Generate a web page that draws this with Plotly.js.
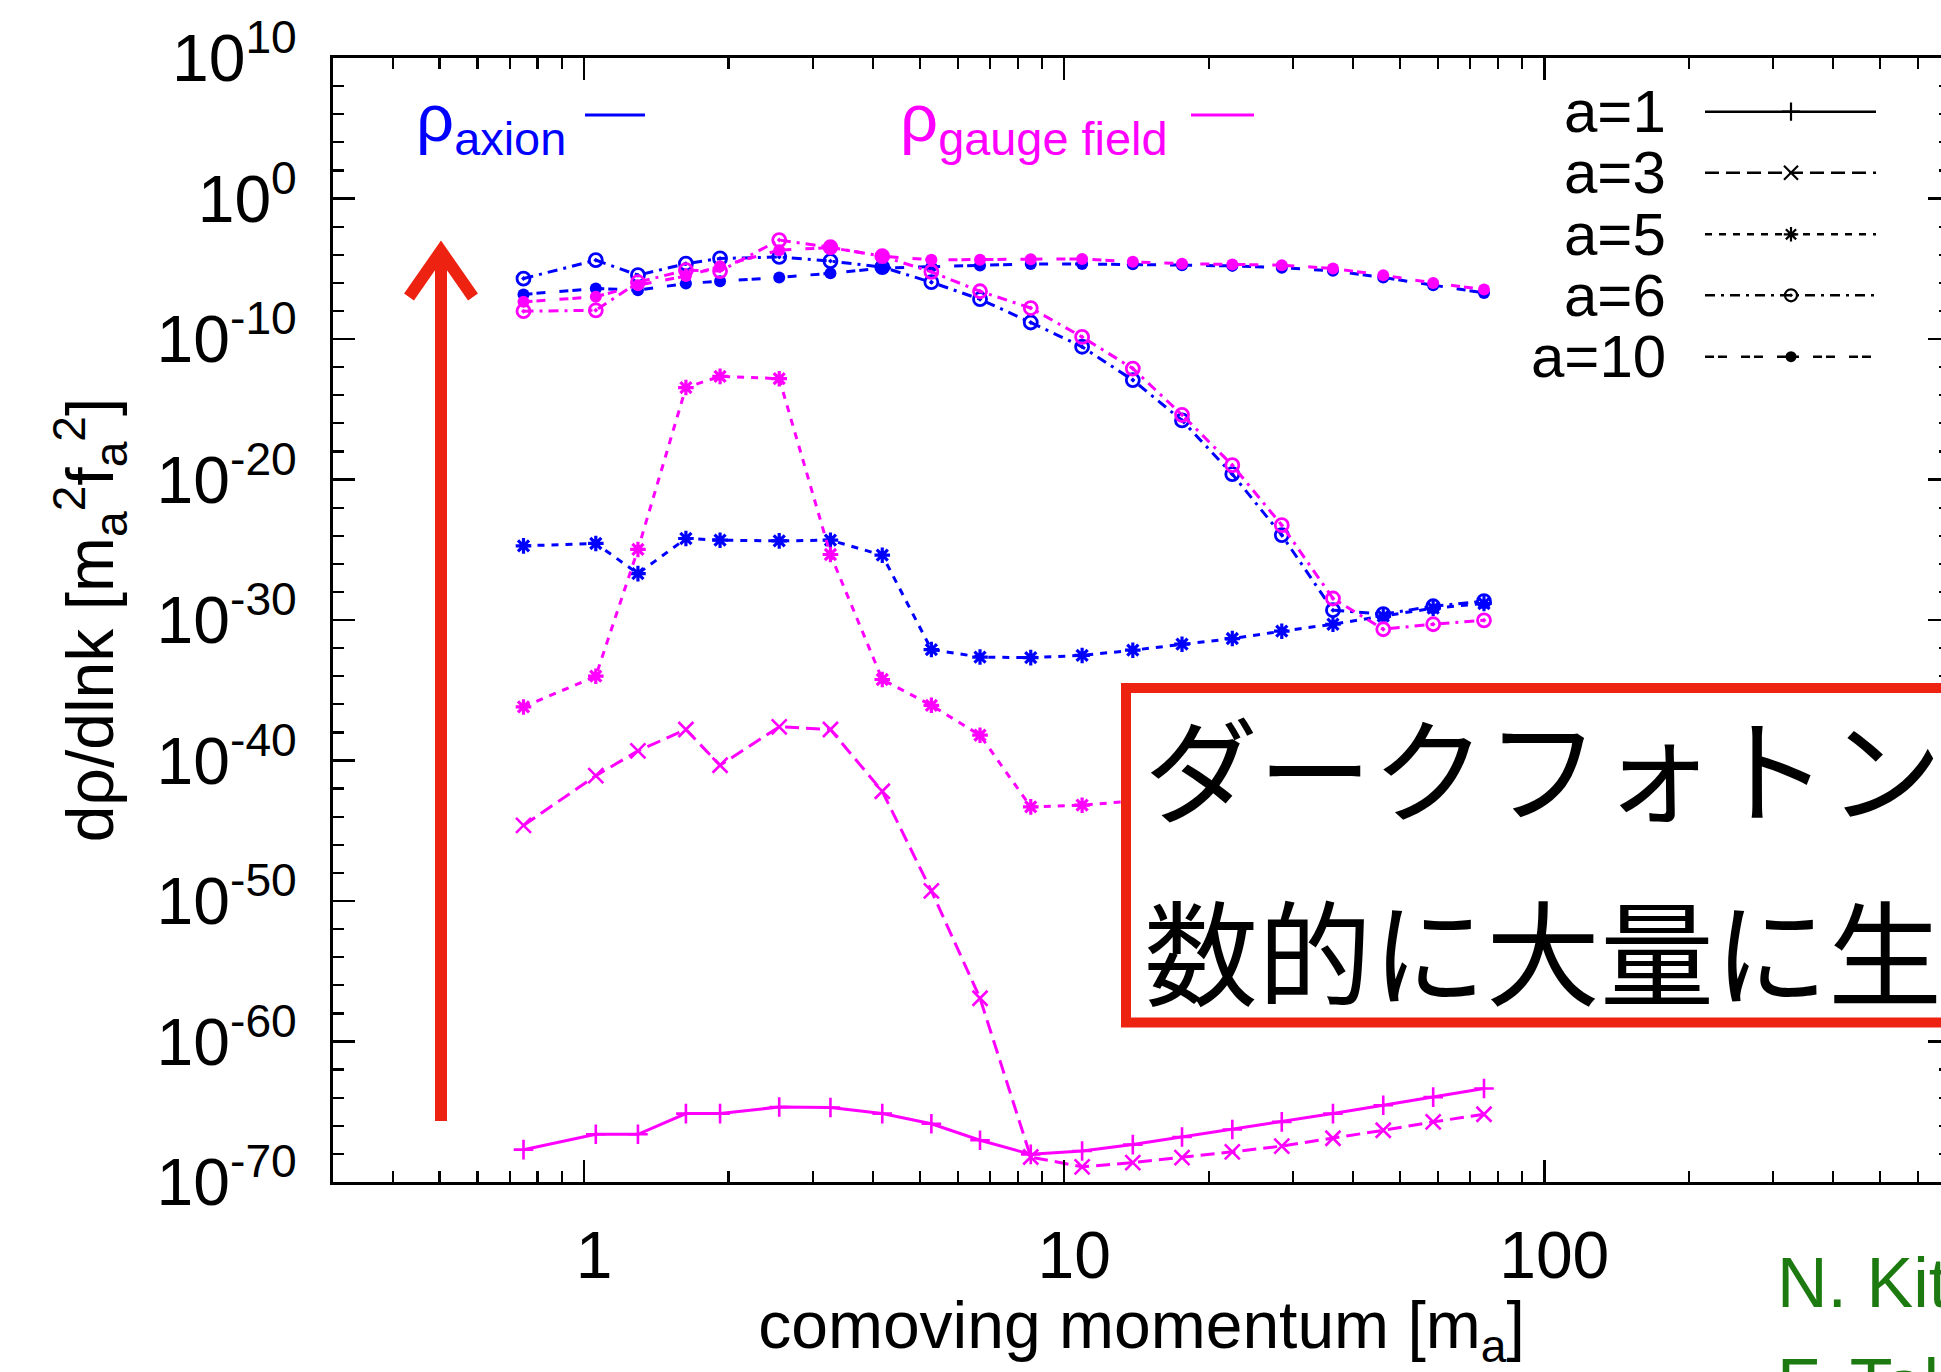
<!DOCTYPE html>
<html>
<head>
<meta charset="utf-8">
<script src="https://cdn.plot.ly/plotly-3.0.1.min.js"></script>
<style>
html,body{margin:0;padding:0;overflow:hidden;background:#ffffff;}
#chart{width:1960px;height:1372px;}
</style>
</head>
<body>
<div id="chart"></div>
<script>
// comoving momentum [m_a]
const k = [0.748,1.058,1.295,1.63,1.92,2.55,3.26,4.18,5.29,6.68,8.52,10.9,13.9,17.6,22.4,28.4,36.3,46.2,58.7,74.9];

// rho_axion (blue)
const axion_a5  = [1.9e-25,2.8e-25,2.0e-27,6.3e-25,4.8e-25,4.3e-25,4.8e-25,4.1e-26,7.9e-33,2.3e-33,2.1e-33,3.0e-33,7.1e-33,1.9e-32,4.8e-32,1.6e-31,5.0e-31,1.9e-30,6.9e-30,1.5e-29];
const axion_a6  = [2.0e-6,4.1e-5,3.5e-6,2.3e-5,5.4e-5,6.9e-5,3.5e-5,1.3e-5,1.1e-6,6.8e-8,1.5e-9,2.8e-11,1.2e-13,1.6e-16,2.4e-20,1.1e-24,5.0e-30,2.6e-30,9.5e-30,2.2e-29];
const axion_a10 = [1.5e-7,3.9e-7,3.0e-7,8.9e-7,1.3e-6,2.4e-6,4.8e-6,1.1e-5,1.4e-5,1.7e-5,2.2e-5,2.2e-5,2.1e-5,1.8e-5,1.6e-5,1.2e-5,7.1e-6,2.4e-6,6.8e-7,1.9e-7];

// rho_gauge field (magenta)
const gauge_a1  = [2.0e-68,2.5e-67,2.5e-67,7.4e-66,7.4e-66,2.2e-65,2.0e-65,7.4e-66,1.4e-66,9.3e-68,9.3e-69,1.6e-68,4.6e-68,1.6e-67,5.4e-67,1.9e-66,7.4e-66,2.9e-65,1.1e-64,4.5e-64];
const gauge_a3  = [2.4e-45,8.3e-42,4.8e-40,1.6e-38,4.6e-41,2.5e-38,1.6e-38,6.5e-43,5.2e-50,1.2e-57,6.0e-69,1.2e-69,2.4e-69,5.5e-69,1.4e-68,3.6e-68,1.3e-67,4.8e-67,1.9e-66,6.6e-66];
const gauge_a5  = [6.5e-37,1.0e-34,1.05e-25,3.5e-14,2.2e-13,1.5e-13,4.6e-26,5.8e-35,8.5e-37,6.3e-39,5.0e-44,6.6e-44,1.3e-43];
const gauge_a6  = [9.5e-9,1.1e-8,1.1e-6,7.9e-6,6.8e-6,1.1e-3,3.4e-4,7.8e-5,6.0e-6,2.5e-7,1.6e-8,1.4e-10,7.9e-13,4.0e-16,1.05e-19,5.6e-24,3.4e-29,2.2e-31,5.0e-31,9.5e-31];
const gauge_a10 = [4.4e-8,1.0e-7,6.8e-7,3.0e-6,1.5e-5,2.1e-4,3.2e-4,7.8e-5,4.3e-5,4.3e-5,4.8e-5,5.0e-5,3.1e-5,2.3e-5,2.0e-5,1.8e-5,1.05e-5,3.5e-6,9.8e-7,3.3e-7];

// tick labels
const xTickVals = [1,10,100];
const xTickText = ["1","10","100"];
const xMinorVals = [0.3,0.4,0.5,0.6,0.7,0.8,0.9,2,3,4,5,6,7,8,9,20,30,40,50,60,70,80,90,200,300,400,500,600,700];
const yExps = [10,0,-10,-20,-30,-40,-50,-60,-70];
const yTickVals = yExps.map(e => Math.pow(10, e));
const yTickText = yExps.map(e => "10<sup>" + e + "</sup>");
const yMinorVals = [];
for (let e = -68; e < 10; e += 2) { if (e % 10 !== 0) yMinorVals.push(Math.pow(10, e)); }

// legend
const legendLabels = ["a=1","a=3","a=5","a=6","a=10"];
const japaneseLines = ["ダークフォトン","数的に大量に生"];
const authorLines = ["N. Kitajima","F. Takahashi"];

// ---------- styling / layout ----------
const BLUE = "#0000ff", MAG = "#ff00ff", RED = "#ee2211";
const FONT = "Liberation Sans, Arial, Helvetica, sans-serif";
const L = 333, T = 58, PW = 1617, PH = 1124;
const fx = p => (p - L) / PW;
const fy = p => (T + PH - p) / PH;

const styles = {
  a1:  {dash:"solid",               symbol:"cross-thin",      size:14, lw:2.6},
  a3:  {dash:"14px,7px",            symbol:"x-thin",          size:15, lw:2.6},
  a5:  {dash:"7px,7px",             symbol:"asterisk",        size:13, lw:3.2},
  a6:  {dash:"10px,6px,3px,6px",    symbol:"circle-open-dot", size:13, lw:2.8},
  a10: {dash:"9px,4px,9px,14px",    symbol:"circle",          size:12, lw:2.0}
};

function series(y, color, st) {
  const s = styles[st];
  const filled = (s.symbol === "circle");
  return {
    type:"scatter", mode:"lines+markers",
    x: k.slice(0, y.length), y: y,
    line:{color:color, width:3, dash:s.dash},
    marker:{symbol:s.symbol, size:s.size, color:color,
            line:{color:color, width: filled ? 0 : s.lw}},
    showlegend:false, hoverinfo:"skip", cliponaxis:true
  };
}

const traces = [
  series(axion_a5, BLUE, "a5"),
  series(axion_a6, BLUE, "a6"),
  series(axion_a10, BLUE, "a10"),
  series(gauge_a1, MAG, "a1"),
  series(gauge_a3, MAG, "a3"),
  series(gauge_a5, MAG, "a5"),
  series(gauge_a6, MAG, "a6"),
  series(gauge_a10, MAG, "a10")
];

// legend samples (drawn on an overlay frame in plot fractions)
const legRowsPx = [111.7,172.7,234.3,295.3,356.7];
const legKeys = ["a1","a3","a5","a6","a10"];
const annotations = [];
legKeys.forEach((key, i) => {
  const s = styles[key];
  const yy = fy(legRowsPx[i]);
  traces.push({
    type:"scatter", mode:"lines+markers", xaxis:"x2", yaxis:"y2",
    x:[fx(1705), fx(1791), fx(1876)], y:[yy, yy, yy],
    line:{color:"#000000", width:2.6, dash:s.dash},
    marker:{symbol:s.symbol, size:s.size - 1, color:"#000000", opacity:[0,1,0],
            line:{color:"#000000", width:(s.symbol === "circle") ? 0 : 2.2}},
    showlegend:false, hoverinfo:"skip", cliponaxis:false
  });
  annotations.push({xref:"paper", yref:"paper", x:fx(1668), y:yy, xanchor:"right", yanchor:"middle",
    text:legendLabels[i], showarrow:false, font:{family:FONT, size:60, color:"#000000"}});
});

annotations.push({xref:"paper", yref:"paper", x:fx(414), y:fy(122), xanchor:"left", yanchor:"middle",
  text:"ρ<sub>axion</sub>", showarrow:false, font:{family:FONT, size:67, color:BLUE}});
annotations.push({xref:"paper", yref:"paper", x:fx(898), y:fy(122), xanchor:"left", yanchor:"middle",
  text:"ρ<sub>gauge field</sub>", showarrow:false, font:{family:FONT, size:67, color:MAG}});

annotations.push({xref:"paper", yref:"paper", x:fx(1142), y:fy(764), xanchor:"left", yanchor:"middle",
  text:japaneseLines[0], showarrow:false, font:{family:"Noto Sans CJK JP, sans-serif", size:114, color:"#000000"}});
annotations.push({xref:"paper", yref:"paper", x:fx(1142), y:fy(948), xanchor:"left", yanchor:"middle",
  text:japaneseLines[1], showarrow:false, font:{family:"Noto Sans CJK JP, sans-serif", size:114, color:"#000000"}});

annotations.push({xref:"paper", yref:"paper", x:fx(1775), y:fy(1283), xanchor:"left", yanchor:"middle",
  text:authorLines[0], showarrow:false, font:{family:FONT, size:70, color:"#1d7a10"}});
annotations.push({xref:"paper", yref:"paper", x:fx(1775), y:fy(1384), xanchor:"left", yanchor:"middle",
  text:authorLines[1], showarrow:false, font:{family:FONT, size:70, color:"#1d7a10"}});

const shapes = [
  // rho legend line samples
  {type:"line", xref:"paper", yref:"paper", x0:fx(585), x1:fx(645), y0:fy(115), y1:fy(115), line:{color:BLUE, width:2.8}},
  {type:"line", xref:"paper", yref:"paper", x0:fx(1191), x1:fx(1254), y0:fy(115), y1:fy(115), line:{color:MAG, width:2.8}},
  // red arrow
  {type:"line", xref:"paper", yref:"paper", x0:fx(441), x1:fx(441), y0:fy(1121), y1:fy(256), line:{color:RED, width:12}},
  {type:"path", xref:"paper", yref:"paper",
   path:"M " + fx(409) + "," + fy(297) + " L " + fx(441) + "," + fy(251) + " L " + fx(473) + "," + fy(297),
   line:{color:RED, width:12}},
  // red framed box
  {type:"rect", xref:"paper", yref:"paper", x0:fx(1126), x1:fx(2200), y0:fy(688), y1:fy(1022.5),
   fillcolor:"#ffffff", line:{color:RED, width:10}, layer:"above"}
];

const axisCommon = {
  showgrid:false, zeroline:false, showline:true, linecolor:"#000000", linewidth:3,
  mirror:"ticks", ticks:"inside", ticklen:22, tickwidth:2.5, tickcolor:"#000000",
  tickfont:{family:FONT, size:66, color:"#000000"}, automargin:false
};

const layout = {
  width:1960, height:1372,
  margin:{l:L, r:1960 - L - PW, t:T, b:1372 - T - PH, pad:0},
  paper_bgcolor:"#ffffff", plot_bgcolor:"#ffffff",
  showlegend:false,
  xaxis: Object.assign({}, axisCommon, {
    type:"log", range:[Math.log10(0.3), Math.log10(700)],
    tickmode:"array", tickvals:xTickVals, ticktext:xTickText,
    ticklabelshift:10, ticklabelstandoff:14,
    minor:{tickmode:"array", tickvals:xMinorVals, ticks:"inside", ticklen:11, tickwidth:2.2, tickcolor:"#000000"},
    title:{text:"comoving momentum [m<sub>a</sub>]", font:{family:FONT, size:66, color:"#000000"}, standoff:34}
  }),
  yaxis: Object.assign({}, axisCommon, {
    type:"log", range:[-70, 10],
    tickmode:"array", tickvals:yTickVals, ticktext:yTickText,
    ticklabelstandoff:20,
    minor:{tickmode:"array", tickvals:yMinorVals, ticks:"inside", ticklen:11, tickwidth:2.2, tickcolor:"#000000"},
    title:{text:"dρ/dlnk [m<sub>a</sub><sup>2</sup>f<sub>a</sub><sup>2</sup>]", font:{family:FONT, size:66, color:"#000000"}, standoff:22}
  }),
  xaxis2:{overlaying:"x", anchor:"y2", range:[0,1], visible:false, fixedrange:true},
  yaxis2:{overlaying:"y", anchor:"x2", range:[0,1], visible:false, fixedrange:true},
  annotations: annotations,
  shapes: shapes
};

Plotly.newPlot("chart", traces, layout, {displayModeBar:false, staticPlot:true});
</script>
</body>
</html>
